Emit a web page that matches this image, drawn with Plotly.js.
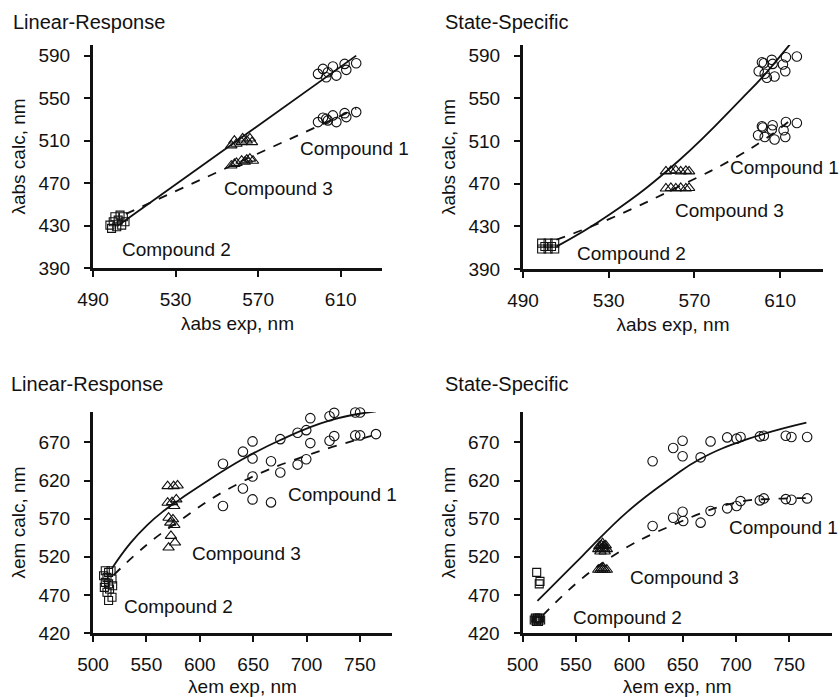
<!DOCTYPE html>
<html>
<head>
<meta charset="utf-8">
<script src="https://cdn.plot.ly/plotly-3.0.1.min.js"></script>
<style>html,body{margin:0;padding:0;background:#fff}#chart{width:840px;height:697px}</style>
</head>
<body>
<div id="chart"></div>
<script>
// ---------- Panel 1: Linear-Response, absorption ----------
const lrAbsC1x = [599, 601.4, 603.8, 606.2, 607.9, 611.9, 612.7, 617.5, 603, 599, 601.4, 603.8, 606.2, 607.9, 611.9, 612.7, 617.5, 603];
const lrAbsC1y = [572.8, 577.5, 574.3, 579.7, 571.2, 582.2, 576.6, 582.8, 569.6, 527.4, 531.5, 529, 533.7, 527.4, 535.8, 532.1, 536.8, 530.6];
const lrAbsC2x = [499, 501.5, 503.9, 499.8, 502.2, 504.7, 500.6, 503.1, 498.2, 505.5];
const lrAbsC2y = [427.3, 428.8, 430.4, 433.5, 435.1, 438.2, 438.2, 439.8, 430.4, 433.5];
const lrAbsC3x = [557, 559.5, 562, 564.5, 566, 558.5, 562.5, 567, 557, 559.5, 562, 564.5, 566, 567.5, 558.5, 563.5];
const lrAbsC3y = [505.5, 507, 508.5, 510, 512, 510, 512, 508.5, 486.5, 489, 491, 492, 493, 491, 488, 490];
const lrAbsSolidX = [502, 617.5];
const lrAbsSolidY = [429.8, 590];
const lrAbsDashX = [506, 617.5];
const lrAbsDashY = [441, 540];

// ---------- Panel 2: State-Specific, absorption ----------
const ssAbsC1x = [600, 601.5, 602.8, 603.8, 606.1, 606.5, 607.4, 611.3, 612.4, 612.7, 617.8, 602.4,
                  599.7, 601.5, 602.8, 606.5, 606.1, 607.4, 611.6, 612.4, 612.7, 617.8, 601.9];
const ssAbsC1y = [575.4, 583.8, 573, 569.3, 586.1, 582.3, 570.5, 581.7, 575.4, 588.5, 589.2, 582.9,
                  515.4, 523.8, 513.8, 524.7, 520.7, 511.4, 520.1, 513.8, 527.8, 526.9, 522.6];
const ssAbsC2x = [498.7, 501.7, 504.8, 498.7, 501.7, 504.8, 500.2, 503.3];
const ssAbsC2y = [414.3, 414.3, 414.3, 408.7, 408.7, 408.7, 411.1, 411.1];
const ssAbsC3x = [556.7, 559, 561.3, 563.6, 566, 567.5, 556.7, 559, 561.3, 563.6, 566, 567.5];
const ssAbsC3y = [481.5, 482, 482.5, 481.5, 482, 481.5, 465.5, 466, 465.5, 466, 465.5, 466];
const ssAbsSolidX = [505.6, 530.4, 562.9, 592.2, 603.1, 613.9, 617.5];
const ssAbsSolidY = [411, 441, 492, 550, 573, 599, 607.5];
const ssAbsDashX = [505.6, 530.4, 567.5, 586.1, 603.1, 617];
const ssAbsDashY = [417.4, 437, 472, 491, 512, 533];

// ---------- Panel 3: Linear-Response, emission ----------
const lrEmC1x = [621.7, 640.4, 649.4, 649.4, 666.7, 675.4, 691.6, 699.7, 703.5, 721.5, 725.9, 745.6, 750.1,
                 621.7, 640.4, 649.4, 649.4, 666.7, 675.4, 691.6, 699.7, 703.5, 721.5, 725.9, 745.6, 750.1, 765];
const lrEmC1y = [642, 658, 671.4, 648.9, 645.3, 674.4, 682.8, 686.2, 701.9, 704.5, 708.9, 709.3, 709.3,
                 586.6, 609.7, 595.3, 625.4, 591.4, 630.6, 641, 648, 669.2, 672.3, 678.4, 679.3, 679.3, 681];
const lrEmC2x = [511.5, 514.6, 516.9, 509.9, 513.1, 517.8, 511.5, 514.6, 518.4, 510.6, 515.5, 513.1, 517.8, 514.6];
const lrEmC2y = [501.7, 499.5, 501.7, 495.2, 493, 490.9, 486.4, 484.4, 482.1, 479.9, 477.8, 473.4, 466.9, 462.6];
const lrEmC3x = [569.9, 575.5, 579.2, 569.9, 574, 578, 576.1, 570.8, 574.9, 572.4, 576.1, 573, 576.8, 570.8];
const lrEmC3y = [612.7, 612.7, 613.6, 590.9, 591.8, 595.3, 586.6, 571.3, 569.2, 564.8, 561.8, 547.4, 538.7, 532.1];
const lrEmSolidX = [517.8, 535, 551, 566, 582, 601, 640, 675, 722, 765];
const lrEmSolidY = [505, 538, 562, 580, 596, 614, 648, 673, 699, 711];
const lrEmDashX = [519.3, 550.6, 578.7, 634.8, 706.6, 765];
const lrEmDashY = [496, 536, 565, 615, 656, 680];

// ---------- Panel 4: State-Specific, emission ----------
const ssEmC1x = [621.9, 641.2, 650, 650, 666.9, 676.2, 691.8, 700.6, 704.3, 722.4, 726.1, 746.7, 752, 766.7,
                 621.9, 641.2, 650, 650.6, 666.9, 676.2, 691.8, 700.6, 704.3, 722.4, 726.1, 746.7, 752, 766.7];
const ssEmC1y = [645.3, 662.7, 672.3, 651.9, 650.5, 671.4, 676.7, 675, 677.1, 678, 678.9, 678.9, 677.1, 677.1,
                 560.5, 571.3, 579.1, 567, 564.8, 580, 583.6, 586.6, 593.1, 594, 596.6, 595.7, 594.8, 596.6];
const ssEmC2x = [513.3, 516.4, 515.7, 511, 513, 515, 517, 512, 514, 516, 513, 515];
const ssEmC2y = [499.5, 487.8, 484.4, 437, 437, 437, 437, 439.5, 439.5, 439.5, 435, 435];
const ssEmC3x = [571, 573, 575, 577, 579, 572, 574, 576, 578, 575, 573, 577, 571, 573, 575, 577, 579, 574, 576];
const ssEmC3y = [530, 530, 531, 530, 530, 534, 535, 534, 535, 538, 527, 527, 503, 503, 503, 503, 503, 505, 505];
const ssEmSolidX = [514, 556, 599, 640, 666, 710, 766];
const ssEmSolidY = [462, 521, 580, 624, 648, 674, 696];
const ssEmDashX = [519, 576, 648, 703, 735, 766];
const ssEmDashY = [443, 513, 566, 592, 596, 597];

// ---------- Text ----------
const panelTitles = ['Linear-Response', 'State-Specific', 'Linear-Response', 'State-Specific'];
const compoundNames = ['Compound 1', 'Compound 2', 'Compound 3'];
const xTitles = ['λabs exp, nm', 'λabs exp, nm', 'λem exp, nm', 'λem exp, nm'];
const yTitles = ['λabs calc, nm', 'λabs calc, nm', 'λem calc, nm', 'λem calc, nm'];

// ---------- Build ----------
const W = 840, H = 697;
const FONT = 'Liberation Sans, Arial, sans-serif';
const ink = '#111';

function markers(x, y, sym, size, ax) {
  return {x: x, y: y, xaxis: ax[0], yaxis: ax[1], type: 'scatter', mode: 'markers', cliponaxis: false,
          marker: {symbol: sym, size: size, color: ink, line: {color: ink, width: 1.1}}, showlegend: false, hoverinfo: 'skip'};
}
function fit(x, y, dash, ax, shape) {
  return {x: x, y: y, xaxis: ax[0], yaxis: ax[1], type: 'scatter', mode: 'lines', cliponaxis: false,
          line: {color: ink, width: 1.8, dash: dash, shape: shape || 'spline', smoothing: 1.3}, showlegend: false, hoverinfo: 'skip'};
}

const panels = [
  {ax: ['x', 'y'], c1: [lrAbsC1x, lrAbsC1y], c2: [lrAbsC2x, lrAbsC2y], c3: [lrAbsC3x, lrAbsC3y],
   s: [lrAbsSolidX, lrAbsSolidY], d: [lrAbsDashX, lrAbsDashY], shape: 'linear'},
  {ax: ['x2', 'y2'], c1: [ssAbsC1x, ssAbsC1y], c2: [ssAbsC2x, ssAbsC2y], c3: [ssAbsC3x, ssAbsC3y],
   s: [ssAbsSolidX, ssAbsSolidY], d: [ssAbsDashX, ssAbsDashY]},
  {ax: ['x3', 'y3'], c1: [lrEmC1x, lrEmC1y], c2: [lrEmC2x, lrEmC2y], c3: [lrEmC3x, lrEmC3y],
   s: [lrEmSolidX, lrEmSolidY], d: [lrEmDashX, lrEmDashY]},
  {ax: ['x4', 'y4'], c1: [ssEmC1x, ssEmC1y], c2: [ssEmC2x, ssEmC2y], c3: [ssEmC3x, ssEmC3y],
   s: [ssEmSolidX, ssEmSolidY], d: [ssEmDashX, ssEmDashY]}
];

const traces = [];
panels.forEach(p => {
  traces.push(fit(p.s[0], p.s[1], 'solid', p.ax, p.shape));
  traces.push(fit(p.d[0], p.d[1], 'dash', p.ax, p.shape));
  traces.push(markers(p.c2[0], p.c2[1], 'square-open', 8, p.ax));
  traces.push(markers(p.c3[0], p.c3[1], 'triangle-up-open', 10, p.ax));
  traces.push(markers(p.c1[0], p.c1[1], 'circle-open', 9.5, p.ax));
});

// pixel boxes of each plot area: [left, right, top, bottom]
const boxes = [[93, 382, 45, 268], [523, 823, 45, 269], [93, 392, 412, 633], [522.5, 832, 412, 633]];
const xr = [[490, 630], [490, 630], [500, 780], [500, 790]];
const yr = [[390, 600], [390, 600], [420, 710], [420, 710]];
const xt = [[490, 40], [490, 40], [500, 50], [500, 50]];
const yt = [[390, 40], [390, 40], [420, 50], [420, 50]];

const layout = {
  width: W, height: H, margin: {l: 0, r: 0, t: 0, b: 0},
  paper_bgcolor: '#fff', plot_bgcolor: '#fff',
  font: {family: FONT, size: 19, color: ink},
  showlegend: false, annotations: []
};
boxes.forEach((b, i) => {
  const sfx = i === 0 ? '' : String(i + 1);
  const common = {showline: true, linecolor: ink, linewidth: 3, ticks: 'outside', ticklen: 6, tickwidth: 2,
                  tickcolor: ink, showgrid: false, zeroline: false, tickmode: 'linear', fixedrange: true,
                  tickfont: {family: FONT, size: 19, color: ink}};
  layout['xaxis' + sfx] = Object.assign({}, common, {
    domain: [b[0] / W, b[1] / W], range: xr[i], tick0: xt[i][0], dtick: xt[i][1],
    anchor: 'y' + sfx, ticklabelstandoff: 6,
    title: {text: xTitles[i], font: {family: FONT, size: 19, color: ink}, standoff: 8}
  });
  layout['yaxis' + sfx] = Object.assign({}, common, {
    domain: [1 - b[3] / H, 1 - b[2] / H], range: yr[i], tick0: yt[i][0], dtick: yt[i][1],
    anchor: 'x' + sfx, ticklabelstandoff: 10,
    title: {text: yTitles[i], font: {family: FONT, size: 19, color: ink}, standoff: 8}
  });
});

function ann(text, px, py, size) {
  layout.annotations.push({text: text, xref: 'paper', yref: 'paper', x: px / W, y: 1 - py / H,
    xanchor: 'left', yanchor: 'middle', showarrow: false, font: {family: FONT, size: size || 19, color: ink}});
}
ann(panelTitles[0], 11, 22, 20);
ann(panelTitles[1], 443, 22, 20);
ann(panelTitles[2], 9, 384, 20);
ann(panelTitles[3], 443, 384, 20);
// compound labels: [panel][compound 1,2,3] -> [left px, center px]
const labelPos = [
  [[298, 148], [120, 250], [222, 188]],
  [[728, 167], [575, 253], [673, 210]],
  [[286, 494], [122, 606], [190, 553]],
  [[727, 527], [571, 617], [628, 577]]
];
labelPos.forEach(pp => pp.forEach((xy, k) => ann(compoundNames[k], xy[0], xy[1])));

Plotly.newPlot('chart', traces, layout, {staticPlot: true, displayModeBar: false});
</script>
</body>
</html>
